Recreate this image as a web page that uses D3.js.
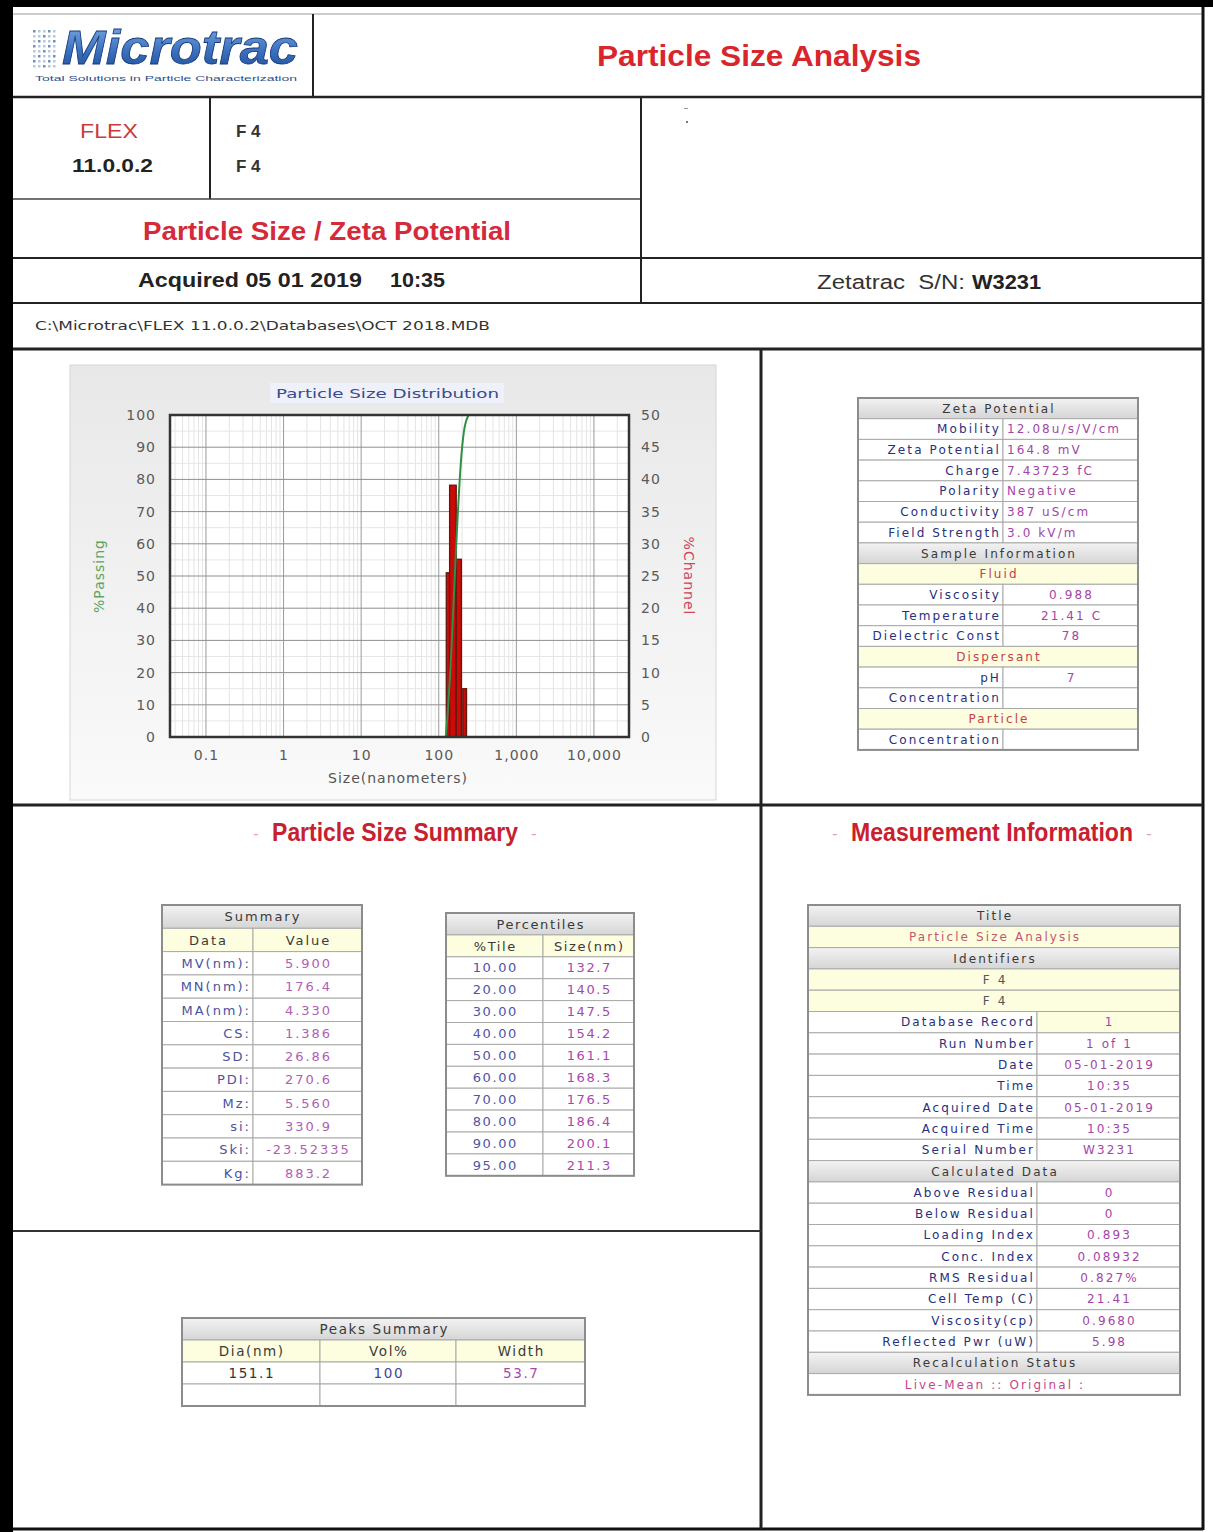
<!DOCTYPE html>
<html>
<head>
<meta charset="utf-8">
<script src="https://cdn.jsdelivr.net/npm/d3@7"></script>
<style>
  body { margin: 0; background: #fff; }
  svg { display: block; }
</style>
</head>
<body>
<svg id="page" width="1213" height="1532"></svg>
<script>
// ---------- distribution data ----------
const sizeTicks = [0.1, 1, 10, 100, 1000, 10000];
const sizeTickLabels = ["0.1", "1", "10", "100", "1,000", "10,000"];
const passingTicks = d3.range(0, 101, 10);
const channelTicks = d3.range(0, 51, 5);

// histogram channels (nm) and %Channel per channel
const binLowNm  = [125, 138, 168, 204];
const binHighNm = [138, 168, 196, 228];
const channelPct = [25.5, 39.1, 27.6, 7.5];

// percentiles (%Tile -> size in nm); cumulative curve runs through them
const percentileTile = [10, 20, 30, 40, 50, 60, 70, 80, 90, 95];
const percentileSizeNm = [132.7, 140.5, 147.5, 154.2, 161.1, 168.3, 176.5, 186.4, 200.1, 211.3];
const passingStartNm = 123;   // 0 % passing
const passingEndNm = 243;     // 100 % passing

// ---------- summary tables ----------
const summaryLabels = ["MV(nm):", "MN(nm):", "MA(nm):", "CS:", "SD:", "PDI:", "Mz:", "si:", "Ski:", "Kg:"];
const summaryValues = ["5.900", "176.4", "4.330", "1.386", "26.86", "270.6", "5.560", "330.9", "-23.52335", "883.2"];

const peakDia = ["151.1"];
const peakVol = ["100"];
const peakWidth = ["53.7"];

const zetaLabels = ["Mobility", "Zeta Potential", "Charge", "Polarity", "Conductivity", "Field Strength"];
const zetaValues = ["12.08u/s/V/cm", "164.8 mV", "7.43723 fC", "Negative", "387 uS/cm", "3.0 kV/m"];
const fluidLabels = ["Viscosity", "Temperature", "Dielectric Const"];
const fluidValues = ["0.988", "21.41 C", "78"];
const dispersantLabels = ["pH", "Concentration"];
const dispersantValues = ["7", ""];
const particleLabels = ["Concentration"];
const particleValues = [""];

const runLabels = ["Database Record", "Run Number", "Date", "Time", "Acquired Date", "Acquired Time", "Serial Number"];
const runValues = ["1", "1 of 1", "05-01-2019", "10:35", "05-01-2019", "10:35", "W3231"];
const calcLabels = ["Above Residual", "Below Residual", "Loading Index", "Conc. Index", "RMS Residual", "Cell Temp (C)", "Viscosity(cp)", "Reflected Pwr (uW)"];
const calcValues = ["0", "0", "0.893", "0.08932", "0.827%", "21.41", "0.9680", "5.98"];

// ---------- page ----------
const W = 1213, H = 1532;
const svg = d3.select("#page");
const defs = svg.append("defs");

function vGrad(id, stops) {
  const g = defs.append("linearGradient").attr("id", id)
    .attr("x1", 0).attr("y1", 0).attr("x2", 0).attr("y2", 1);
  stops.forEach(([o, c]) => g.append("stop").attr("offset", o).attr("stop-color", c));
}
vGrad("headGrad", [[0, "#f3f3f3"], [1, "#d5d5d5"]]);
vGrad("panelGrad", [[0, "#e8e8e8"], [1, "#fafafa"]]);
vGrad("logoGrad", [[0, "#7fb0e8"], [0.55, "#3d72c0"], [1, "#1b4a94"]]);

const SANS = "'Liberation Sans', Arial, sans-serif";
const DJV = "'DejaVu Sans', Verdana, sans-serif";

// outer frame
svg.append("rect").attr("x", 0).attr("y", 0).attr("width", W).attr("height", 7).attr("fill", "#000");
svg.append("rect").attr("x", 0).attr("y", 0).attr("width", 13).attr("height", H).attr("fill", "#000");

// ruling lines of the report form
const rules = [
  [13, 14, 1203, 14, 1, "#9a9a9a"],
  [1203, 7, 1203, 1530, 3, "#111"],
  [13, 1529, 1203, 1529, 3, "#111"],
  [313, 14, 313, 97, 2, "#222"],
  [13, 97, 1203, 97, 2.5, "#222"],
  [210, 97, 210, 199, 2, "#222"],
  [13, 199, 641, 199, 1.5, "#444"],
  [641, 97, 641, 303, 2, "#222"],
  [13, 258, 1203, 258, 2, "#222"],
  [13, 303, 1203, 303, 2, "#222"],
  [13, 349, 1203, 349, 3, "#222"],
  [761, 349, 761, 1529, 3, "#222"],
  [13, 805, 1203, 805, 3, "#222"],
  [13, 1231, 761, 1231, 2, "#333"]
];
svg.append("g").selectAll("line").data(rules).join("line")
  .attr("x1", d => d[0]).attr("y1", d => d[1]).attr("x2", d => d[2]).attr("y2", d => d[3])
  .attr("stroke-width", d => d[4]).attr("stroke", d => d[5]);

// ---------- logo ----------
const logo = svg.append("g");
const dotRows = d3.range(8), dotCols = d3.range(5);
logo.selectAll("rect.dot").data(d3.cross(dotRows, dotCols)).join("rect")
  .attr("class", "dot")
  .attr("x", d => 33 + d[1] * 5).attr("y", d => 30 + d[0] * 5)
  .attr("width", 2.5).attr("height", 2.5)
  .attr("fill", d => (d[0] + d[1]) % 3 === 0 ? "#6f8fc4" : "#b9c6dc");
logo.append("text").attr("x", 62).attr("y", 64)
  .attr("font-family", SANS).attr("font-size", 48).attr("font-style", "italic").attr("font-weight", "bold")
  .attr("fill", "url(#logoGrad)").attr("stroke", "#173a78").attr("stroke-width", 0.8)
  .attr("textLength", 236).attr("lengthAdjust", "spacingAndGlyphs")
  .text("Microtrac");
logo.append("text").attr("x", 35).attr("y", 81)
  .attr("font-family", SANS).attr("font-size", 7).attr("fill", "#2d4f8a")
  .attr("textLength", 262).attr("lengthAdjust", "spacingAndGlyphs")
  .text("Total Solutions in Particle Characterization");

// ---------- header texts ----------
function txt(x, y, s, o = {}) {
  const t = svg.append("text").attr("x", x).attr("y", y)
    .attr("font-family", o.family || SANS).attr("font-size", o.size || 16)
    .attr("font-weight", o.weight || "normal").attr("fill", o.fill || "#222")
    .attr("text-anchor", o.anchor || "start")
    .attr("letter-spacing", o.ls || 0)
    .text(s);
  if (o.len) t.attr("textLength", o.len).attr("lengthAdjust", "spacingAndGlyphs");
  return t;
}
txt(597, 66, "Particle Size Analysis", { size: 29, weight: "bold", fill: "#d8262c", len: 324 });
txt(80, 138, "FLEX", { size: 20, fill: "#cc3a3a", len: 58 });
txt(72, 172, "11.0.0.2", { size: 19, weight: "bold", fill: "#222", len: 81 });
txt(236, 137, "F 4", { size: 17, weight: "bold", fill: "#333" });
txt(236, 172, "F 4", { size: 17, weight: "bold", fill: "#333" });
svg.append("rect").attr("x", 684).attr("y", 108).attr("width", 4).attr("height", 1).attr("fill", "#999");
svg.append("rect").attr("x", 686).attr("y", 121).attr("width", 2).attr("height", 2).attr("fill", "#777");
txt(143, 240, "Particle Size / Zeta Potential", { size: 25, weight: "bold", fill: "#d42a3a", len: 368 });
txt(138, 287, "Acquired 05 01 2019", { size: 20, weight: "bold", fill: "#222", len: 224 });
txt(390, 287, "10:35", { size: 20, weight: "bold", fill: "#222", len: 55 });
txt(817, 289, "Zetatrac  S/N:", { size: 20, fill: "#333", len: 148 }).attr("style", "white-space:pre");
txt(972, 289, "W3231", { size: 20, weight: "bold", fill: "#222", len: 69 });
txt(35, 330, "C:\\Microtrac\\FLEX 11.0.0.2\\Databases\\OCT 2018.MDB",
  { family: DJV, size: 12.5, fill: "#333", len: 455 });

// ---------- particle size distribution chart ----------
const plot = { left: 170, right: 629, top: 415, bottom: 737 };
svg.append("rect").attr("x", 70).attr("y", 365).attr("width", 646).attr("height", 435)
  .attr("fill", "url(#panelGrad)").attr("stroke", "#d6d6d6");
svg.append("rect").attr("x", 270).attr("y", 383).attr("width", 234).attr("height", 20).attr("fill", "#eef0fa");
txt(276, 398, "Particle Size Distribution", { family: DJV, size: 13, fill: "#3b4a8c", len: 223 });

const x = d3.scaleLog().domain([0.0344, 28300]).range([plot.left, plot.right]);
const yPass = d3.scaleLinear().domain([0, 100]).range([plot.bottom, plot.top]);
const yChan = d3.scaleLinear().domain([0, 50]).range([plot.bottom, plot.top]);

const chart = svg.append("g");
chart.append("rect").attr("x", plot.left).attr("y", plot.top)
  .attr("width", plot.right - plot.left).attr("height", plot.bottom - plot.top).attr("fill", "#fff");

// grid
const minorX = x.ticks().filter(v => !sizeTicks.includes(+v.toPrecision(6)));
chart.append("g").selectAll("line").data(minorX).join("line")
  .attr("x1", d => x(d)).attr("x2", d => x(d)).attr("y1", plot.top).attr("y2", plot.bottom)
  .attr("stroke", "#e4e4e4");
chart.append("g").selectAll("line").data(d3.range(5, 100, 10)).join("line")
  .attr("y1", d => yPass(d)).attr("y2", d => yPass(d)).attr("x1", plot.left).attr("x2", plot.right)
  .attr("stroke", "#e6e6e6");
chart.append("g").selectAll("line").data(sizeTicks).join("line")
  .attr("x1", d => x(d)).attr("x2", d => x(d)).attr("y1", plot.top).attr("y2", plot.bottom)
  .attr("stroke", "#9a9a9a");
chart.append("g").selectAll("line").data(passingTicks).join("line")
  .attr("y1", d => yPass(d)).attr("y2", d => yPass(d)).attr("x1", plot.left).attr("x2", plot.right)
  .attr("stroke", "#8f8f8f");

// %Channel bars
const bins = binLowNm.map((lo, i) => ({ lo, hi: binHighNm[i], v: channelPct[i] }));
chart.append("g").selectAll("rect").data(bins).join("rect")
  .attr("x", d => x(d.lo)).attr("width", d => x(d.hi) - x(d.lo))
  .attr("y", d => yChan(d.v)).attr("height", d => yChan(0) - yChan(d.v))
  .attr("fill", "#cc0a0a").attr("stroke", "#5e1a0c").attr("stroke-width", 1.3);

// %Passing cumulative curve
const passPts = [[passingStartNm, 0]]
  .concat(percentileSizeNm.map((s, i) => [s, percentileTile[i]]))
  .concat([[passingEndNm, 100]]);
chart.append("path").datum(passPts)
  .attr("fill", "none").attr("stroke", "#2f8f45").attr("stroke-width", 2)
  .attr("d", d3.line().x(d => x(d[0])).y(d => yPass(d[1])).curve(d3.curveMonotoneX));

chart.append("rect").attr("x", plot.left).attr("y", plot.top)
  .attr("width", plot.right - plot.left).attr("height", plot.bottom - plot.top)
  .attr("fill", "none").attr("stroke", "#333").attr("stroke-width", 2.5);

// axes
function styleAxis(g) {
  g.select(".domain").remove();
  g.selectAll("text").attr("font-family", DJV).attr("font-size", 14)
    .attr("fill", "#5a5a5a").attr("letter-spacing", 1);
}
chart.append("g").attr("transform", `translate(${plot.left},0)`)
  .call(d3.axisLeft(yPass).tickValues(passingTicks).tickSize(0).tickPadding(14)).call(styleAxis);
chart.append("g").attr("transform", `translate(${plot.right},0)`)
  .call(d3.axisRight(yChan).tickValues(channelTicks).tickSize(0).tickPadding(12)).call(styleAxis);
chart.append("g").attr("transform", `translate(0,${plot.bottom})`)
  .call(d3.axisBottom(x).tickValues(sizeTicks).tickFormat((d, i) => sizeTickLabels[i])
    .tickSize(0).tickPadding(13)).call(styleAxis);

chart.append("text").attr("transform", "translate(104,576) rotate(-90)").attr("text-anchor", "middle")
  .attr("font-family", DJV).attr("font-size", 14).attr("fill", "#5fa35f").attr("letter-spacing", 1)
  .text("%Passing");
chart.append("text").attr("transform", "translate(684,576) rotate(90)").attr("text-anchor", "middle")
  .attr("font-family", DJV).attr("font-size", 14).attr("fill", "#d0455a").attr("letter-spacing", 1)
  .text("%Channel");
chart.append("text").attr("x", 398).attr("y", 783).attr("text-anchor", "middle")
  .attr("font-family", DJV).attr("font-size", 14).attr("fill", "#555").attr("letter-spacing", 1)
  .text("Size(nanometers)");

// ---------- section titles (condensed bold, flanked by faint dashes) ----------
function sectionTitle(cx, y, label, width) {
  const t = svg.append("g");
  [cx - width / 2 - 16, cx + width / 2 + 16].forEach(px =>
    t.append("text").attr("x", px).attr("y", y - 2).attr("text-anchor", "middle")
      .attr("font-family", SANS).attr("font-size", 16).attr("fill", "#e3a3a8").text("-"));
  const inner = t.append("g").attr("transform", `translate(${cx},${y}) scale(0.82,1)`);
  const label_ = inner.append("text").attr("x", 0).attr("y", 0).attr("text-anchor", "middle")
    .attr("font-family", SANS).attr("font-size", 25).attr("font-weight", "bold").attr("fill", "#c8202f")
    .text(label);
  // fit the condensed label to its column width
  const natural = label_.node().getComputedTextLength();
  inner.attr("transform", `translate(${cx},${y}) scale(${width / natural},1)`);
}
sectionTitle(395, 841, "Particle Size Summary", 246);
sectionTitle(992, 841, "Measurement Information", 282);

// ---------- tables ----------
const LABEL = "#27307e", VALUE = "#a444a8", DARK = "#3a3a3a", BAND = "#c8404a";
const head = t => ({ span: true, bg: "url(#headGrad)", cells: [{ t, c: DARK, a: "middle" }] });
const band = (t, c = BAND) => ({ span: true, bg: "#fdfde0", cells: [{ t, c, a: "middle" }] });
const whiteSpan = (t, c) => ({ span: true, bg: "#fff", cells: [{ t, c, a: "middle" }] });
const pair = (l, v, va = "middle", vbg = "#fff") => ({
  span: false, bg: "#fff",
  cells: [{ t: l, c: LABEL, a: "end" }, { t: v, c: VALUE, a: va, bg: vbg }]
});
const multi = (texts, colors, bg) => ({
  span: false, bg, cells: texts.map((t, i) => ({ t, c: colors[i], a: "middle" }))
});

function drawTable(cols, y0, rowH, rows, fontSize = 12, ls = 2) {
  const g = svg.append("g");
  const x0 = cols[0], x1 = cols[cols.length - 1];
  const rowG = g.selectAll("g").data(rows).join("g")
    .attr("transform", (d, i) => `translate(0,${y0 + i * rowH})`);
  rowG.each(function (r) {
    const sel = d3.select(this);
    const cells = r.span
      ? [{ ...r.cells[0], x: x0, w: x1 - x0 }]
      : r.cells.map((c, j) => ({ ...c, x: cols[j], w: cols[j + 1] - cols[j] }));
    sel.selectAll("rect").data(cells).join("rect")
      .attr("x", d => d.x).attr("y", 0).attr("width", d => d.w).attr("height", rowH)
      .attr("fill", d => d.bg || r.bg).attr("stroke", "#a9a9a9").attr("stroke-width", 1);
    sel.selectAll("text").data(cells).join("text")
      .attr("x", d => d.a === "start" ? d.x + 4 : d.a === "end" ? d.x + d.w - 2 : d.x + d.w / 2 + ls / 2)
      .attr("y", rowH / 2).attr("dy", "0.36em")
      .attr("text-anchor", d => d.a)
      .attr("font-family", DJV).attr("font-size", fontSize).attr("letter-spacing", ls)
      .attr("fill", d => d.c)
      .text(d => d.t);
  });
  g.append("rect").attr("x", x0).attr("y", y0).attr("width", x1 - x0).attr("height", rows.length * rowH)
    .attr("fill", "none").attr("stroke", "#8c8c8c").attr("stroke-width", 2);
}

// zeta potential / sample information
const zetaRows = [head("Zeta Potential")]
  .concat(zetaLabels.map((l, i) => pair(l, zetaValues[i], "start")))
  .concat([head("Sample Information"), band("Fluid")])
  .concat(fluidLabels.map((l, i) => pair(l, fluidValues[i])))
  .concat([band("Dispersant")])
  .concat(dispersantLabels.map((l, i) => pair(l, dispersantValues[i])))
  .concat([band("Particle")])
  .concat(particleLabels.map((l, i) => pair(l, particleValues[i])));
drawTable([858, 1003, 1138], 398, 20.7, zetaRows, 12, 2.1);

// summary
const summaryRows = [head("Summary"), multi(["Data", "Value"], [DARK, DARK], "#fdfde0")]
  .concat(summaryLabels.map((l, i) => ({
    span: false, bg: "#fff",
    cells: [{ t: l, c: "#4a52a0", a: "end" }, { t: summaryValues[i], c: "#b060b4", a: "middle" }]
  })));
drawTable([162, 253, 362], 905, 23.3, summaryRows, 13, 2);

// percentiles
const fmtTile = d3.format(".2f"), fmtSize = d3.format(".1f");
const pctRows = [head("Percentiles"), multi(["%Tile", "Size(nm)"], [DARK, DARK], "#fdfde0")]
  .concat(percentileTile.map((p, i) => multi([fmtTile(p), fmtSize(percentileSizeNm[i])], ["#4e56a6", "#a848ac"], "#fff")));
drawTable([446, 543, 634], 913, 21.9, pctRows, 13, 1.6);

// peaks summary
const peakRows = [head("Peaks Summary"), multi(["Dia(nm)", "Vol%", "Width"], [DARK, DARK, DARK], "#fdfde0")]
  .concat(peakDia.map((d, i) => multi([d, peakVol[i], peakWidth[i]], ["#333", "#3c44a0", "#a848ac"], "#fff")))
  .concat([multi(["", "", ""], [DARK, DARK, DARK], "#fff")]);
drawTable([182, 320, 456, 585], 1318, 22, peakRows, 13.5, 1.6);

// measurement information
const measRows = [head("Title"), band("Particle Size Analysis", "#c05a70"), head("Identifiers"),
  band("F 4", "#555"), band("F 4", "#555")]
  .concat(runLabels.map((l, i) => pair(l, runValues[i], "middle", i === 0 ? "#fdfde0" : "#fff")))
  .concat([head("Calculated Data")])
  .concat(calcLabels.map((l, i) => pair(l, calcValues[i])))
  .concat([head("Recalculation Status"), whiteSpan("Live-Mean  ::  Original :", "#c8448a")]);
drawTable([808, 1037, 1180], 905, 21.3, measRows, 12, 2.1);
</script>
</body>
</html>
